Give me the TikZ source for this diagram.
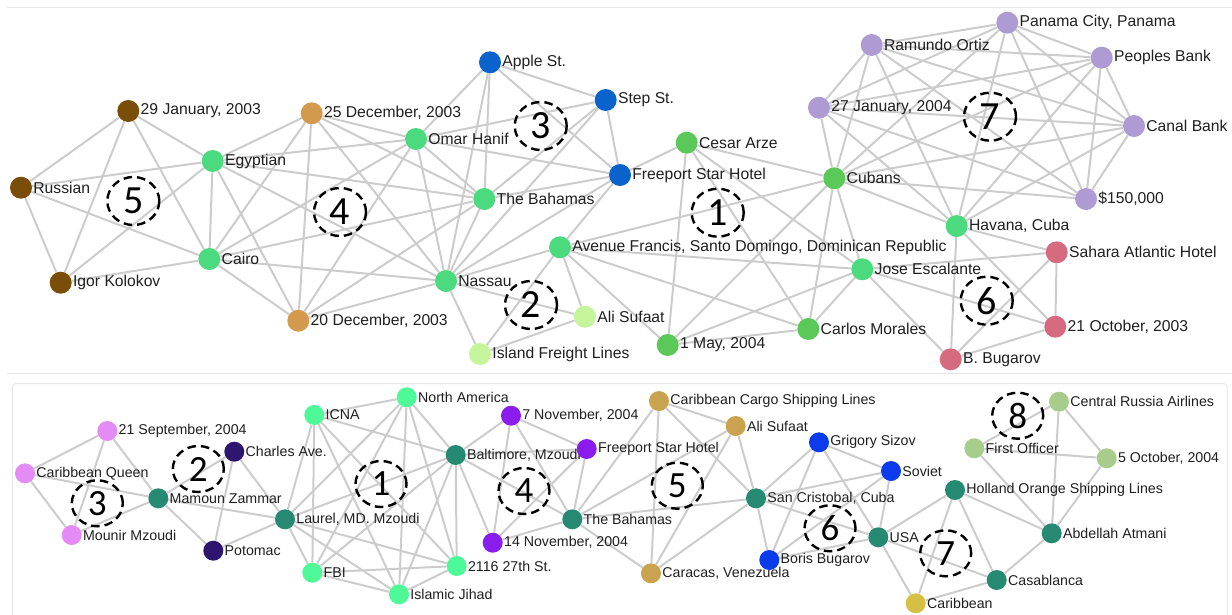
\documentclass[tikz,border=0pt]{standalone}
\usepackage{fontspec}
\setmainfont{Liberation Sans}
\newfontfamily\numfont{Carlito}
\usetikzlibrary{shapes.geometric}

\definecolor{cBrown}{HTML}{7A4E08}
\definecolor{cTan}{HTML}{D39A4D}
\definecolor{cLime}{HTML}{4CDA7E}
\definecolor{cBlueT}{HTML}{0A62CC}
\definecolor{cGreen}{HTML}{5BC95A}
\definecolor{cPale}{HTML}{C4F59B}
\definecolor{cLav}{HTML}{AE9BD3}
\definecolor{cRose}{HTML}{D66A7F}
\definecolor{cOrchid}{HTML}{E58BF5}
\definecolor{cTeal}{HTML}{268A73}
\definecolor{cIndigo}{HTML}{2E1670}
\definecolor{cMint}{HTML}{4DFA97}
\definecolor{cViolet}{HTML}{8B1CEE}
\definecolor{cKhaki}{HTML}{C9A350}
\definecolor{cBlueB}{HTML}{0B3BEB}
\definecolor{cMustard}{HTML}{D6C043}
\definecolor{cSage}{HTML}{A8CC8C}
\definecolor{cEdge}{HTML}{CCCCCC}
\definecolor{cFrame}{HTML}{E6E6E6}

\pgfdeclarelayer{edges}
\pgfsetlayers{edges,main}

\tikzset{
  tn/.style={circle, fill=#1, minimum size=22pt, inner sep=0pt, label distance=2.5pt},
  bn/.style={circle, fill=#1, minimum size=20pt, inner sep=0pt, label distance=2.5pt},
  tl/.style={font=\fontsize{15.7}{18}\selectfont, inner sep=1pt, text=black!88},
  bl/.style={font=\fontsize{14.2}{16}\selectfont, inner sep=1pt, text=black!88},
  edge/.style={draw=cEdge, line width=2pt},
  frame/.style={draw=cFrame, line width=1pt},
  grpT/.style={ellipse, draw=black, line width=2.4pt, dash pattern=on 8.5pt off 5pt,
    minimum width=52pt, minimum height=48pt, inner sep=0pt,
    font=\numfont\fontsize{40}{40}\selectfont},
  grpB/.style={ellipse, draw=black, line width=2.4pt, dash pattern=on 8.5pt off 5pt,
    minimum width=51pt, minimum height=46pt, inner sep=0pt,
    font=\numfont\fontsize{37}{37}\selectfont},
}

\begin{document}
\begin{tikzpicture}[x=1pt, y=-1pt]
\useasboundingbox (0,0) rectangle (1232,614);

% panel frames
\draw[frame] (7,7.3) -- (1232,7.3);
\draw[frame] (7,373.3) -- (1232,373.3);
\draw[frame, rounded corners=3pt] (12.7,640) -- (12.7,383.5) -- (1227,383.5) -- (1227,640);

% ---------------- upper network ----------------
\node[tn=cBrown, label={[tl]east:29 January, 2003}] (jan29) at (128.3,111) {};
\node[tn=cBrown, label={[tl]east:Russian}] (russian) at (21,187.7) {};
\node[tn=cBrown, label={[tl]east:Igor Kolokov}] (igor) at (60.7,282.7) {};
\node[tn=cLime, label={[tl]east:Egyptian}] (egypt) at (212.7,161) {};
\node[tn=cLime, label={[tl]east:Cairo}] (cairo) at (209.3,259) {};
\node[tn=cTan, label={[tl]east:25 December, 2003}] (dec25) at (311.7,113.3) {};
\node[tn=cTan, label={[tl]east:20 December, 2003}] (dec20) at (298.3,320.7) {};
\node[tn=cLime, label={[tl]east:Omar Hanif}] (omar) at (416,139) {};
\node[tn=cBlueT, label={[tl]east:Apple St.}] (apple) at (490,62.3) {};
\node[tn=cBlueT, label={[tl]east:Step St.}] (step) at (605.7,100) {};
\node[tn=cBlueT, label={[tl]east:Freeport Star Hotel}] (freeT) at (620,175) {};
\node[tn=cLime, label={[tl]east:The Bahamas}] (bahT) at (484.3,199) {};
\node[tn=cLime, label={[tl]east:Nassau}] (nassau) at (446,281) {};
\node[tn=cLime, label={[tl]east:Avenue Francis, Santo Domingo, Dominican Republic}] (avenue) at (560,247.3) {};
\node[tn=cPale, label={[tl]east:Ali Sufaat}] (aliT) at (585,316.7) {};
\node[tn=cPale, label={[tl]east:Island Freight Lines}] (island) at (480,354) {};
\node[tn=cGreen, label={[tl]east:Cesar Arze}] (cesar) at (686.7,142.7) {};
\node[tn=cGreen, label={[tl]east:1 May, 2004}] (may1) at (667.7,345) {};
\node[tn=cGreen, label={[tl]east:Carlos Morales}] (carlos) at (808.3,329) {};
\node[tn=cGreen, label={[tl]east:Cubans}] (cubans) at (834.3,178.3) {};
\node[tn=cLime, label={[tl]east:Jose Escalante}] (jose) at (862.3,269.3) {};
\node[tn=cLime, label={[tl]east:Havana, Cuba}] (havana) at (956.7,226) {};
\node[tn=cLav, label={[tl]east:Ramundo Ortiz}] (ramundo) at (871.7,45) {};
\node[tn=cLav, label={[tl]east:Panama City, Panama}] (panama) at (1007.3,22.7) {};
\node[tn=cLav, label={[tl]east:Peoples Bank}] (peoples) at (1101.7,57.7) {};
\node[tn=cLav, label={[tl]east:27 January, 2004}] (jan27) at (819,107.7) {};
\node[tn=cLav, label={[tl]east:Canal Bank}] (canal) at (1134,126) {};
\node[tn=cLav, label={[tl]east:\$150,000}] (money) at (1086,199) {};
\node[tn=cRose, label={[tl]east:Sahara Atlantic Hotel}] (sahara) at (1056.7,252.3) {};
\node[tn=cRose, label={[tl]east:21 October, 2003}] (oct21) at (1055.3,326.7) {};
\node[tn=cRose, label={[tl]east:B. Bugarov}] (bugarov) at (950.7,359.3) {};

% ---------------- lower network ----------------
\node[bn=cOrchid, label={[bl]east:21 September, 2004}] (sep21) at (107.3,431) {};
\node[bn=cOrchid, label={[bl]east:Caribbean Queen}] (cqueen) at (25,473.3) {};
\node[bn=cOrchid, label={[bl]east:Mounir Mzoudi}] (mounir) at (71.7,535) {};
\node[bn=cTeal, label={[bl]east:Mamoun Zammar}] (mamoun) at (158.3,498.3) {};
\node[bn=cIndigo, label={[bl]east:Charles Ave.}] (charles) at (234.3,451.7) {};
\node[bn=cIndigo, label={[bl]east:Potomac}] (potomac) at (213.3,550.7) {};
\node[bn=cTeal, label={[bl]east:{Laurel, MD. Mzoudi}}] (laurel) at (285,519.3) {};
\node[bn=cMint, label={[bl]east:ICNA}] (icna) at (314.3,415) {};
\node[bn=cMint, label={[bl]east:North America}] (namerica) at (406.7,397.3) {};
\node[bn=cTeal, label={[bl]east:{Baltimore, Mzoudi}}] (balt) at (455.7,455) {};
\node[bn=cMint, label={[bl]east:FBI}] (fbi) at (312.3,572.7) {};
\node[bn=cMint, label={[bl]east:Islamic Jihad}] (jihad) at (399,594.3) {};
\node[bn=cMint, label={[bl]east:2116 27th St.}] (st2116) at (456.7,566) {};
\node[bn=cViolet, label={[bl]east:7 November, 2004}] (nov7) at (511,415.7) {};
\node[bn=cViolet, label={[bl]east:Freeport Star Hotel}] (freeB) at (586.7,449) {};
\node[bn=cTeal, label={[bl]east:The Bahamas}] (bahB) at (572.3,519.3) {};
\node[bn=cViolet, label={[bl]east:14 November, 2004}] (nov14) at (492.7,542.7) {};
\node[bn=cKhaki, label={[bl]east:Caribbean Cargo Shipping Lines}] (ccsl) at (659,401) {};
\node[bn=cKhaki, label={[bl]east:Ali Sufaat}] (aliB) at (735.7,426) {};
\node[bn=cKhaki, label={[bl]east:Caracas, Venezuela}] (caracas) at (651,573.3) {};
\node[bn=cTeal, label={[bl]east:San Cristobal, Cuba}] (sancr) at (756,498.3) {};
\node[bn=cBlueB, label={[bl]east:Grigory Sizov}] (grigory) at (819,442.3) {};
\node[bn=cBlueB, label={[bl]east:Soviet}] (soviet) at (891,471) {};
\node[bn=cBlueB, label={[bl]east:Boris Bugarov}] (boris) at (769.3,560) {};
\node[bn=cTeal, label={[bl]east:USA}] (usa) at (878.3,537.3) {};
\node[bn=cTeal, label={[bl]east:Holland Orange Shipping Lines}] (holland) at (955,490) {};
\node[bn=cTeal, label={[bl]east:Casablanca}] (casab) at (996.7,580) {};
\node[bn=cMustard, label={[bl]east:Caribbean}] (carib) at (915.7,603.3) {};
\node[bn=cTeal, label={[bl]east:Abdellah Atmani}] (abdel) at (1051.7,533.3) {};
\node[bn=cSage, label={[bl]east:First Officer}] (firsto) at (974.3,448.3) {};
\node[bn=cSage, label={[bl]east:Central Russia Airlines}] (cra) at (1059,401.7) {};
\node[bn=cSage, label={[bl]east:5 October, 2004}] (oct5) at (1106.7,458.3) {};

% ---------------- connectors ----------------
\begin{pgfonlayer}{edges}
\foreach \a/\b in {
  jan29/russian, jan29/igor, jan29/egypt, jan29/cairo, russian/igor, russian/egypt,
  russian/cairo, igor/egypt, igor/cairo, egypt/cairo,
  egypt/dec25, egypt/dec20, egypt/omar, egypt/bahT, egypt/nassau,
  cairo/dec25, cairo/dec20, cairo/omar, cairo/bahT, cairo/nassau,
  dec25/dec20, dec25/omar, dec25/bahT, dec25/nassau, dec20/omar, dec20/bahT,
  dec20/nassau, omar/bahT, omar/nassau, bahT/nassau,
  apple/step, apple/freeT, apple/omar, apple/bahT, apple/nassau, step/freeT,
  step/omar, step/bahT, step/nassau, freeT/omar, freeT/bahT, freeT/nassau,
  avenue/nassau, avenue/aliT, avenue/island, nassau/aliT, nassau/island, aliT/island,
  avenue/freeT, cesar/freeT, cesar/may1, cesar/cubans, cesar/carlos, cesar/jose,
  may1/avenue, may1/carlos, may1/cubans, may1/jose, carlos/avenue, carlos/cubans,
  carlos/jose, cubans/avenue, cubans/jose, avenue/jose,
  jose/sahara, jose/oct21, jose/bugarov, havana/sahara, havana/oct21, havana/bugarov,
  sahara/oct21, sahara/bugarov, oct21/bugarov,
  ramundo/panama, ramundo/peoples, ramundo/jan27, ramundo/canal, ramundo/money,
  ramundo/cubans, ramundo/havana, panama/peoples, panama/jan27, panama/canal,
  panama/money, panama/cubans, panama/havana, peoples/jan27, peoples/canal,
  peoples/money, peoples/cubans, peoples/havana, jan27/canal, jan27/money,
  jan27/cubans, jan27/havana, canal/money, canal/cubans, canal/havana,
  money/cubans, cubans/havana}
  \draw[edge] (\a) -- (\b);
\foreach \a/\b in {
  sep21/cqueen, sep21/mounir, sep21/mamoun, cqueen/mounir, cqueen/mamoun, mounir/mamoun,
  mamoun/charles, mamoun/potomac, mamoun/laurel, charles/potomac, charles/laurel,
  potomac/laurel,
  icna/namerica, icna/balt, icna/laurel, icna/fbi, icna/jihad, icna/st2116,
  namerica/balt, namerica/laurel, namerica/fbi, namerica/jihad, namerica/st2116,
  balt/laurel, balt/fbi, balt/jihad, balt/st2116, laurel/fbi, laurel/jihad,
  laurel/st2116, fbi/jihad, fbi/st2116, jihad/st2116,
  balt/nov7, balt/freeB, balt/bahB, balt/nov14, nov7/freeB, nov7/bahB, nov7/nov14,
  freeB/bahB, freeB/nov14, nov14/bahB,
  ccsl/aliB, ccsl/bahB, ccsl/caracas, ccsl/sancr, aliB/bahB, aliB/caracas,
  aliB/sancr, bahB/caracas, bahB/sancr, caracas/sancr,
  sancr/grigory, sancr/soviet, sancr/boris, sancr/usa, grigory/soviet, grigory/boris,
  grigory/usa, soviet/boris, soviet/usa, boris/usa,
  usa/holland, usa/casab, usa/carib, holland/carib, holland/casab, holland/abdel,
  carib/casab, casab/abdel,
  cra/firsto, cra/oct5, cra/abdel, firsto/oct5, firsto/abdel, oct5/abdel}
  \draw[edge] (\a) -- (\b);
\end{pgfonlayer}

% ---------------- numbered groups ----------------
\node[grpT] (gt5) at (133.3,201) {5};
\node[grpT] (gt4) at (340,212) {4};
\node[grpT] (gt3) at (540.7,126) {3};
\node[grpT] (gt1) at (717.7,212.7) {1};
\node[grpT] (gt2) at (531,305) {2};
\node[grpT] (gt7) at (990,116.7) {7};
\node[grpT] (gt6) at (986.7,300.7) {6};

\node[grpB] (gb3) at (97.3,503.3) {3};
\node[grpB] (gb2) at (198.3,469) {2};
\node[grpB] (gb1) at (381,484) {1};
\node[grpB] (gb4) at (524,491) {4};
\node[grpB] (gb5) at (677.3,485.7) {5};
\node[grpB] (gb6) at (830,528.3) {6};
\node[grpB] (gb7) at (945.7,553.3) {7};
\node[grpB] (gb8) at (1017.7,415.7) {8};
\end{tikzpicture}
\end{document}
